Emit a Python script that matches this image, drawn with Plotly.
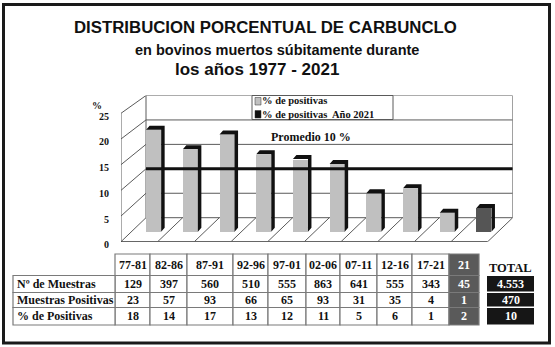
import plotly.graph_objects as go

# ---- data -------------------------------------------------------------
periods = ["77-81", "82-86", "87-91", "92-96", "97-01", "02-06", "07-11", "12-16", "17-21"]
label_2021 = "21"
n_samples = [129, 397, 560, 510, 555, 863, 641, 555, 343]
n_positive = [23, 57, 93, 66, 65, 93, 31, 35, 4]
pct_positive = [18, 14, 17, 13, 12, 11, 5, 6, 1]
samples_2021 = 45
positive_2021 = 1
pct_2021 = 2
total_samples = "4.553"
total_positive = 470
total_pct = 10
average_pct = 10
y_ticks = [0, 5, 10, 15, 20, 25]

row_labels = ["Nº de Muestras", "Muestras Positivas", "% de Positivas"]
legend_labels = ["% de positivas", "% de positivas  Año 2021"]

# ---- figure geometry ----------------------------------------------------
W, H = 555, 347
CAT_PX = 36.7            # pixels per category
CAT0_PX = 153.65         # pixel centre of first category
PLOT_L, PLOT_R = 121, 512.7
PLOT_T, PLOT_B = 95.5, 241.7
Y_MAX = 25
FLOOR_FRONT = -4.91      # floor front edge, in value units
x_lo = (PLOT_L - CAT0_PX) / CAT_PX
x_hi = (PLOT_R - CAT0_PX) / CAT_PX
WALL_X = (146 - CAT0_PX) / CAT_PX       # back wall left edge
DEPTH_X = WALL_X - x_lo                  # depth shift of the box
SIDE_FRONT_TOP = 21.36                   # side wall front top, value units
SIDE_K = (SIDE_FRONT_TOP - FLOOR_FRONT) / Y_MAX

BAR_W = 0.41
BAR_BASE = -2.86
CAP_DX, CAP_DY = 0.095, 0.82

SERIF = "Liberation Serif, Times New Roman, serif"
SANS = "Liberation Sans, Arial, sans-serif"
WALL_LINE = "#5a5a5a"

categories = periods + [label_2021]
pct_all = pct_positive + [pct_2021]
xs = list(range(len(categories)))
face_colors = ["#c0c0c0"] * len(periods) + ["#555555"]

fig = go.Figure()

fig.add_trace(go.Bar(
    x=xs, y=[v - BAR_BASE for v in pct_all], base=BAR_BASE,
    width=BAR_W, marker=dict(color=face_colors, line=dict(width=0)),
    customdata=categories, hovertemplate="%{customdata}: %{y}%<extra></extra>",
    xaxis="x", yaxis="y", showlegend=False,
))
# invisible trace anchoring the pixel overlay axes
fig.add_trace(go.Scatter(x=[0], y=[0], mode="markers", marker=dict(opacity=0),
                         xaxis="x2", yaxis="y2", showlegend=False, hoverinfo="skip"))

shapes = []
ann = []

# ---- box: back wall, side wall, floor -------------------------------------
shapes.append(dict(type="rect", xref="x", yref="y", x0=WALL_X, x1=x_hi, y0=0, y1=Y_MAX,
                   line=dict(color=WALL_LINE, width=1), fillcolor="white", layer="below"))
for v in y_ticks[1:-1]:
    shapes.append(dict(type="line", xref="x", yref="y", x0=WALL_X, x1=x_hi, y0=v, y1=v,
                       line=dict(color=WALL_LINE, width=1), layer="below"))
for v in y_ticks:
    shapes.append(dict(type="line", xref="x", yref="y", x0=WALL_X, y0=v,
                       x1=x_lo, y1=FLOOR_FRONT + SIDE_K * v,
                       line=dict(color=WALL_LINE, width=1), layer="below"))
shapes.append(dict(type="line", xref="x", yref="y", x0=x_lo, x1=x_lo,
                   y0=FLOOR_FRONT, y1=SIDE_FRONT_TOP, line=dict(color=WALL_LINE, width=1), layer="below"))
# floor outline and category separators
floor_front_r = x_hi - DEPTH_X
shapes.append(dict(type="line", xref="x", yref="y", x0=x_lo, x1=floor_front_r,
                   y0=FLOOR_FRONT, y1=FLOOR_FRONT, line=dict(color="#333333", width=1.5), layer="below"))
shapes.append(dict(type="line", xref="x", yref="y", x0=floor_front_r, y0=FLOOR_FRONT,
                   x1=x_hi, y1=0, line=dict(color=WALL_LINE, width=1), layer="below"))
step = (floor_front_r - x_lo) / len(categories)
for k in range(1, len(categories)):
    fx = x_lo + k * step
    shapes.append(dict(type="line", xref="x", yref="y", x0=fx, y0=FLOOR_FRONT,
                       x1=fx + DEPTH_X, y1=0, line=dict(color=WALL_LINE, width=1), layer="below"))

# ---- bar depth (dark top and right side) -----------------------------------
for x, v in zip(xs, pct_all):
    a, b = x - BAR_W / 2, x + BAR_W / 2
    path = (f"M {a},{v} L {a + CAP_DX},{v + CAP_DY} L {b + CAP_DX},{v + CAP_DY} "
            f"L {b + CAP_DX},{BAR_BASE + CAP_DY} L {b},{BAR_BASE} L {b},{v} Z")
    shapes.append(dict(type="path", xref="x", yref="y", path=path,
                       fillcolor="#111111", line=dict(width=0), layer="above"))

# ---- average line ---------------------------------------------------------
shapes.append(dict(type="line", xref="x", yref="y", x0=WALL_X, x1=x_hi,
                   y0=average_pct, y1=average_pct, line=dict(color="#111111", width=3), layer="above"))
ann.append(dict(xref="x2", yref="y2", x=311, y=137, text=f"<b>Promedio {average_pct} %</b>",
                showarrow=False, font=dict(family=SERIF, size=12, color="#111111")))

# ---- value axis labels ------------------------------------------------------
for v in y_ticks:
    ann.append(dict(xref="x", yref="y", x=x_lo, y=FLOOR_FRONT + SIDE_K * v, text=f"<b>{v}</b>",
                    showarrow=False, xanchor="right", xshift=-10, yshift=-3,
                    font=dict(family=SERIF, size=10, color="#111111")))
ann.append(dict(xref="x2", yref="y2", x=97, y=105, text="<b>%</b>", showarrow=False,
                font=dict(family=SERIF, size=10, color="#111111")))

# ---- legend box -------------------------------------------------------------
shapes.append(dict(type="rect", xref="x2", yref="y2", x0=252, x1=393, y0=95.5, y1=119.5,
                   line=dict(color=WALL_LINE, width=1), fillcolor="white", layer="above"))
for y0, col in zip([97.5, 110.5], ["#c0c0c0", "#111111"]):
    shapes.append(dict(type="rect", xref="x2", yref="y2", x0=255, x1=261, y0=y0, y1=y0 + 7.5,
                       line=dict(color="#333333", width=0.5), fillcolor=col, layer="above"))
ann.append(dict(xref="x2", yref="y2", x=261, y=107.6, text="<br>".join(f"<b>{t}</b>" for t in legend_labels),
                showarrow=False, xanchor="left", align="left", borderpad=0,
                font=dict(family=SERIF, size=10.5, color="#111111")))

# ---- titles -----------------------------------------------------------------
ann.append(dict(xref="x2", yref="y2", x=265, y=27, text="<b>DISTRIBUCION PORCENTUAL DE CARBUNCLO</b>",
                showarrow=False, font=dict(family=SANS, size=16.8, color="#111111")))
ann.append(dict(xref="x2", yref="y2", x=277, y=50, text="<b>en bovinos muertos súbitamente durante</b>",
                showarrow=False, font=dict(family=SANS, size=14.5, color="#111111")))
ann.append(dict(xref="x2", yref="y2", x=257, y=69, text="<b>los años 1977 - 2021</b>",
                showarrow=False, font=dict(family=SANS, size=17, color="#111111")))

# ---- table ------------------------------------------------------------------
col_edges = [115, 150, 187, 233, 268, 306, 340, 377, 412, 449, 479]
row_edges = [254, 275.5, 292.5, 307.5, 325]
GRID = "#7a7a7a"
body = [n_samples + [samples_2021], n_positive + [positive_2021], pct_positive + [pct_2021]]
for c in range(len(categories)):
    dark = c == len(categories) - 1
    for r in range(4):
        shapes.append(dict(type="rect", xref="x2", yref="y2",
                           x0=col_edges[c], x1=col_edges[c + 1], y0=row_edges[r], y1=row_edges[r + 1],
                           line=dict(color=GRID, width=1.2),
                           fillcolor="#5a5a5a" if dark else "white", layer="above"))
        txt = categories[c] if (r == 0 and not dark) else (label_2021 if r == 0 else body[r - 1][c])
        ann.append(dict(xref="x2", yref="y2", x=(col_edges[c] + col_edges[c + 1]) / 2,
                        y=(row_edges[r] + row_edges[r + 1]) / 2, text=f"<b>{txt}</b>", showarrow=False,
                        font=dict(family=SERIF, size=12, color="white" if dark else "#111111")))
for r, lab in enumerate(row_labels):
    shapes.append(dict(type="rect", xref="x2", yref="y2", x0=13, x1=115,
                       y0=row_edges[r + 1], y1=row_edges[r + 2],
                       line=dict(color=GRID, width=1.2), fillcolor="white", layer="above"))
    ann.append(dict(xref="x2", yref="y2", x=15, y=(row_edges[r + 1] + row_edges[r + 2]) / 2,
                    text=f"<b>{lab}</b>", showarrow=False, xanchor="left",
                    font=dict(family=SERIF, size=12, color="#111111")))

# totals column
ann.append(dict(xref="x2", yref="y2", x=510.5, y=268, text="<b>TOTAL</b>", showarrow=False,
                font=dict(family=SERIF, size=12.5, color="#111111")))
total_rows = [(276, 291.5), (293, 306.5), (308, 324.5)]
for (t, b), val in zip(total_rows, [total_samples, total_positive, total_pct]):
    shapes.append(dict(type="rect", xref="x2", yref="y2", x0=487, x1=534, y0=t, y1=b,
                       line=dict(width=0), fillcolor="#161616", layer="above"))
    ann.append(dict(xref="x2", yref="y2", x=510.5, y=(t + b) / 2, text=f"<b>{val}</b>", showarrow=False,
                    font=dict(family=SERIF, size=12, color="white")))

# ---- outer frame --------------------------------------------------------------
shapes.append(dict(type="rect", xref="x2", yref="y2", x0=3.5, x1=549.5, y0=4.5, y1=343,
                   line=dict(color="#1a1a1a", width=3), fillcolor="rgba(0,0,0,0)", layer="above"))

hidden = dict(showgrid=False, zeroline=False, showticklabels=False, showline=False, ticks="")
fig.update_layout(
    width=W, height=H, margin=dict(l=0, r=0, t=0, b=0),
    paper_bgcolor="white", plot_bgcolor="rgba(0,0,0,0)",
    xaxis=dict(domain=[PLOT_L / W, PLOT_R / W], range=[x_lo, x_hi], **hidden),
    yaxis=dict(domain=[1 - PLOT_B / H, 1 - PLOT_T / H], range=[FLOOR_FRONT, Y_MAX], **hidden),
    xaxis2=dict(domain=[0, 1], range=[0, W], anchor="y2", **hidden),
    yaxis2=dict(domain=[0, 1], range=[H, 0], anchor="x2", **hidden),
    shapes=shapes, annotations=ann, bargap=0, showlegend=False,
)
fig.write_html("out.html")
